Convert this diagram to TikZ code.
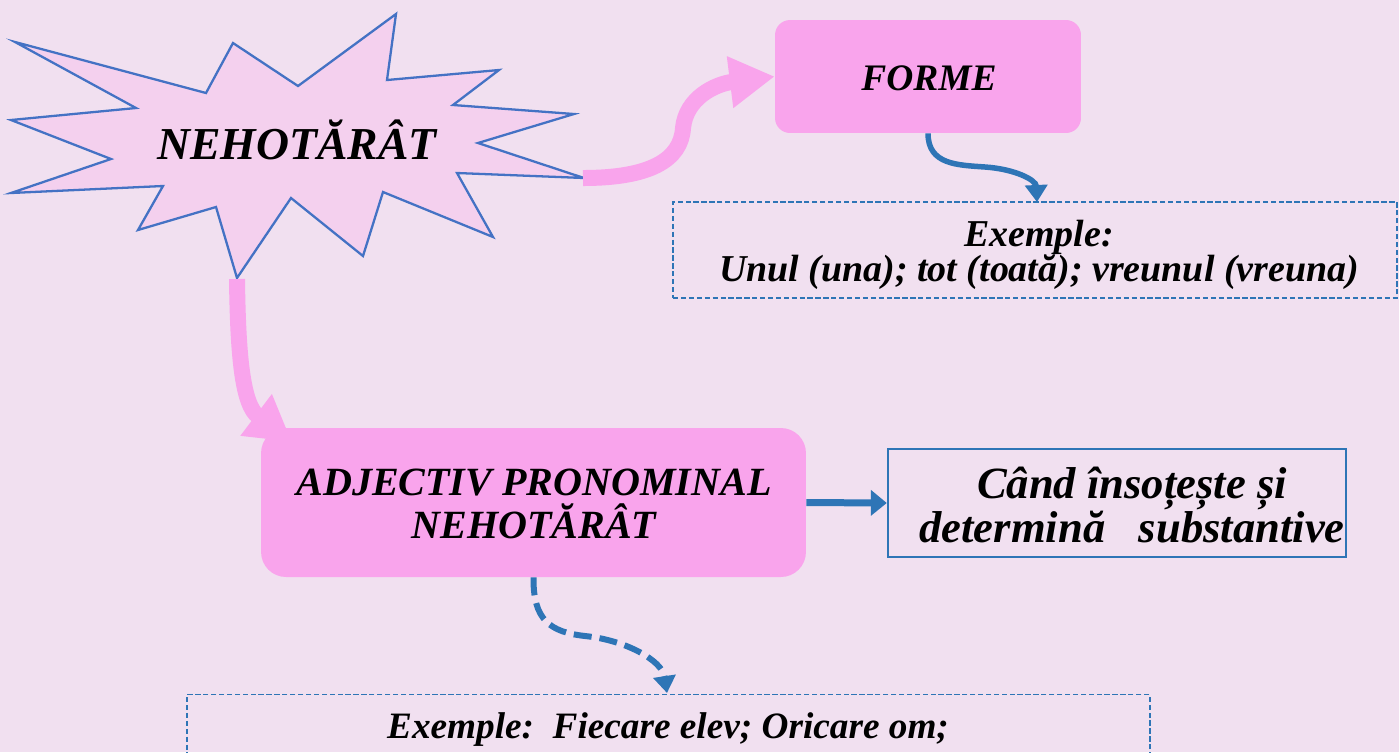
\documentclass[tikz,border=0pt]{standalone}
\usepackage{fontspec}
\setmainfont{Liberation Serif}
\usetikzlibrary{arrows.meta}
\definecolor{bg}{RGB}{241,224,240}
\definecolor{pinkbox}{RGB}{249,164,236}
\definecolor{starfill}{RGB}{244,208,238}
\definecolor{starline}{RGB}{68,114,196}
\definecolor{blueline}{RGB}{46,117,182}
\tikzset{
  txt/.style={font=\bfseries\itshape, text=black, align=center, inner sep=0pt},
  pinkbox/.style={fill=pinkbox, draw=none, inner sep=0pt},
  bluebox/.style={draw=blueline, line width=1.4pt, fill=bg, inner sep=0pt},
  exbox/.style={draw=blueline, line width=0.8pt, dash pattern=on 3pt off 1.5pt, inner sep=0pt},
  pinkarrow/.style={draw=pinkbox, line width=0.32cm, -{Triangle[length=0.9cm,width=0.98cm]}},
  bluearrow/.style={draw=blueline, line width=0.11cm, -{Triangle[length=0.34cm,width=0.44cm]}},
}
\begin{document}
\begin{tikzpicture}[x=0.02cm,y=-0.02cm]
\fill[bg] (0,0) rectangle (1399,752);
\useasboundingbox (0,0) rectangle (1399,752);
\clip (0,0) rectangle (1399,752);
% starburst
\draw[draw=starline, fill=starfill, line width=1.3pt, line join=miter]
 (15,42) -- (136,108) -- (11,120) -- (111,159) -- (11,193) -- (163,186) -- (138,230)
 -- (216,207) -- (237,278) -- (291,198) -- (363,256) -- (383,192) -- (493,237)
 -- (457,173) -- (584,178) -- (478,143) -- (574,114) -- (453,105) -- (499,70)
 -- (387,80) -- (396,14) -- (298,86) -- (233,43) -- (206,93) -- cycle;
\node[txt, font=\fontsize{26pt}{30pt}\selectfont\bfseries\itshape] (star) at (297,140) {NEHOTĂRÂT};
\coordinate (starR) at (583,178);
\coordinate (starB) at (237,279);
% boxes
\node[pinkbox, rounded corners=0.3cm, minimum width=6.12cm, minimum height=2.26cm] (forme) at (928,76.5) {};
\node[txt, font=\fontsize{21.3pt}{25pt}\selectfont\bfseries\itshape] (formet) at (929,78) {FORME};
% arrows (drawn before ADJ box so it covers tip)
\draw[pinkarrow] (starR) .. controls (650,178) and (681,160) .. (683,128) .. controls (686,98) and (715,84) .. (forme.west);
\draw[pinkarrow] (starB) .. controls (238,360) and (243,405) .. (292,442);
\node[pinkbox, rounded corners=0.5cm, minimum width=10.9cm, minimum height=2.98cm] (adj) at (533.5,502.5) {};
\node[txt, font=\fontsize{22.8pt}{24.5pt}\selectfont\bfseries\itshape] (adjt) at (534,504) {ADJECTIV PRONOMINAL\\NEHOTĂRÂT};
\node[bluebox, minimum width=9.16cm, minimum height=2.16cm] (cand) at (1117,503) {};
\node[txt, font=\fontsize{25.4pt}{24.5pt}\selectfont\bfseries\itshape] (candt) at (1132,505) {Când însoțește și\\determină\ \ \ substantive};
\node[exbox, minimum width=14.48cm, minimum height=1.92cm] (ex1) at (1035,250) {};
\node[txt, font=\fontsize{21.6pt}{20pt}\selectfont\bfseries\itshape] (ex1t) at (1039,255) {Exemple:\\Unul (una); tot (toată); vreunul (vreuna)};
\node[exbox, minimum width=19.26cm, minimum height=1.92cm, anchor=north] (ex2) at (668.5,694) {};
\node[txt, font=\fontsize{21.2pt}{24pt}\selectfont\bfseries\itshape] (ex2t) at (668,730) {Exemple:\ \ Fiecare elev; Oricare om;};
% blue arrows
\draw[bluearrow] (forme.south) .. controls (928,165) and (958,165) .. (985,167) .. controls (1015,169) and (1036,180) .. (1037,202);
\draw[draw=blueline, line width=0.14cm, -{Triangle[length=0.32cm,width=0.5cm]}] (adj.east) -- (cand.west);
\draw[bluearrow, line width=0.12cm, dash pattern=on 0.36cm off 0.16cm] (adj.south) .. controls (533,620) and (550,632) .. (585,636) .. controls (625,640) and (662,660) .. (667,693);
\end{tikzpicture}
\end{document}
